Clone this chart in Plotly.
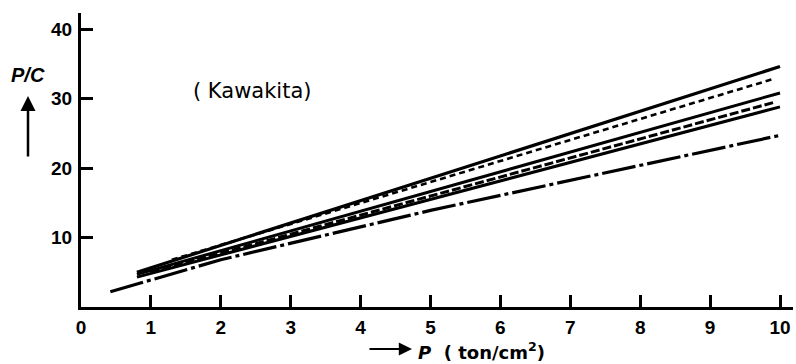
import plotly.graph_objects as go

# ---- data ----
a_x = [0.8, 10.0]
a_y = [5.0, 34.6]
b_x = [1.3, 9.9]
b_y = [6.8, 32.8]
c_x = [0.8, 10.0]
c_y = [4.7, 30.8]
d_x = [1.0, 9.9]
d_y = [5.0, 29.4]
e_x = [0.8, 10.0]
e_y = [4.3, 28.8]
f_x = [0.42, 2.0, 5.0, 10.0]
f_y = [2.2, 6.8, 13.9, 24.7]

x_ticks = [0, 1, 2, 3, 4, 5, 6, 7, 8, 9, 10]
y_ticks = [10, 20, 30, 40]

W, H = 796, 364
ML, MR, MT, MB = 81, 3, 13, 57
PW, PH = W - ML - MR, H - MT - MB


def px(x):
    return (x - ML) / PW


def py(y):
    return (H - MB - y) / PH


fig = go.Figure()
series = [
    (a_x, a_y, "solid", 3.2),
    (b_x, b_y, "6px,4px", 2.6),
    (c_x, c_y, "solid", 3.0),
    (d_x, d_y, "9px,3px", 3.0),
    (e_x, e_y, "solid", 3.0),
    (f_x, f_y, "34px,4px,4px,4px", 3.2),
]
for xs, ys, dash, w in series:
    fig.add_trace(go.Scatter(x=xs, y=ys, mode="lines",
                             line=dict(color="black", width=w, dash=dash),
                             showlegend=False, hoverinfo="skip"))

tick_font = dict(family="Liberation Sans", size=19, color="black", weight="bold")

fig.update_layout(
    width=W, height=H,
    margin=dict(l=ML, r=MR, t=MT, b=MB),
    paper_bgcolor="white", plot_bgcolor="white",
    xaxis=dict(range=[0, PW / 69.9], tickvals=x_ticks, ticktext=[str(t) for t in x_ticks],
               showline=True, linecolor="black", linewidth=3, ticks="inside",
               ticklen=12, tickwidth=3, tickcolor="black", showgrid=False,
               zeroline=False, tickfont=tick_font, ticklabelstandoff=1),
    yaxis=dict(range=[0, PH / 6.95], tickvals=y_ticks, ticktext=[str(t) for t in y_ticks],
               showline=True, linecolor="black", linewidth=3, ticks="inside",
               ticklen=12, tickwidth=3, tickcolor="black", showgrid=False,
               zeroline=False, tickfont=tick_font, ticklabelstandoff=2),
)

ann_font = dict(family="DejaVu Sans", size=21, color="black")
fig.add_annotation(x=px(252), y=py(91), xref="paper", yref="paper",
                   xanchor="center", yanchor="middle",
                   text="( Kawakita)", showarrow=False, font=ann_font)
fig.add_annotation(x=px(28), y=py(75), xref="paper", yref="paper",
                   xanchor="center", yanchor="middle",
                   text="<i>P/C</i>", showarrow=False,
                   font=dict(family="Liberation Sans", size=20, color="black", weight="bold"))
# up arrow under P/C
fig.add_annotation(x=px(28), y=py(96), xref="paper", yref="paper",
                   ax=0, ay=62, axref="pixel", ayref="pixel",
                   text="", showarrow=True, arrowhead=2, arrowsize=1.2,
                   arrowwidth=2.5, arrowcolor="black")
# right arrow before x label
fig.add_annotation(x=px(412), y=py(349), xref="paper", yref="paper",
                   ax=-44, ay=0, axref="pixel", ayref="pixel",
                   text="", showarrow=True, arrowhead=2, arrowsize=1.2,
                   arrowwidth=2.2, arrowcolor="black")
fig.add_annotation(x=px(416), y=py(351), xref="paper", yref="paper",
                   xanchor="left", yanchor="middle",
                   text="<i>P</i>  ( ton/cm<sup>2</sup>)", showarrow=False,
                   font=dict(family="DejaVu Sans", size=18, color="black", weight="bold"))

fig.write_html("out.html")
